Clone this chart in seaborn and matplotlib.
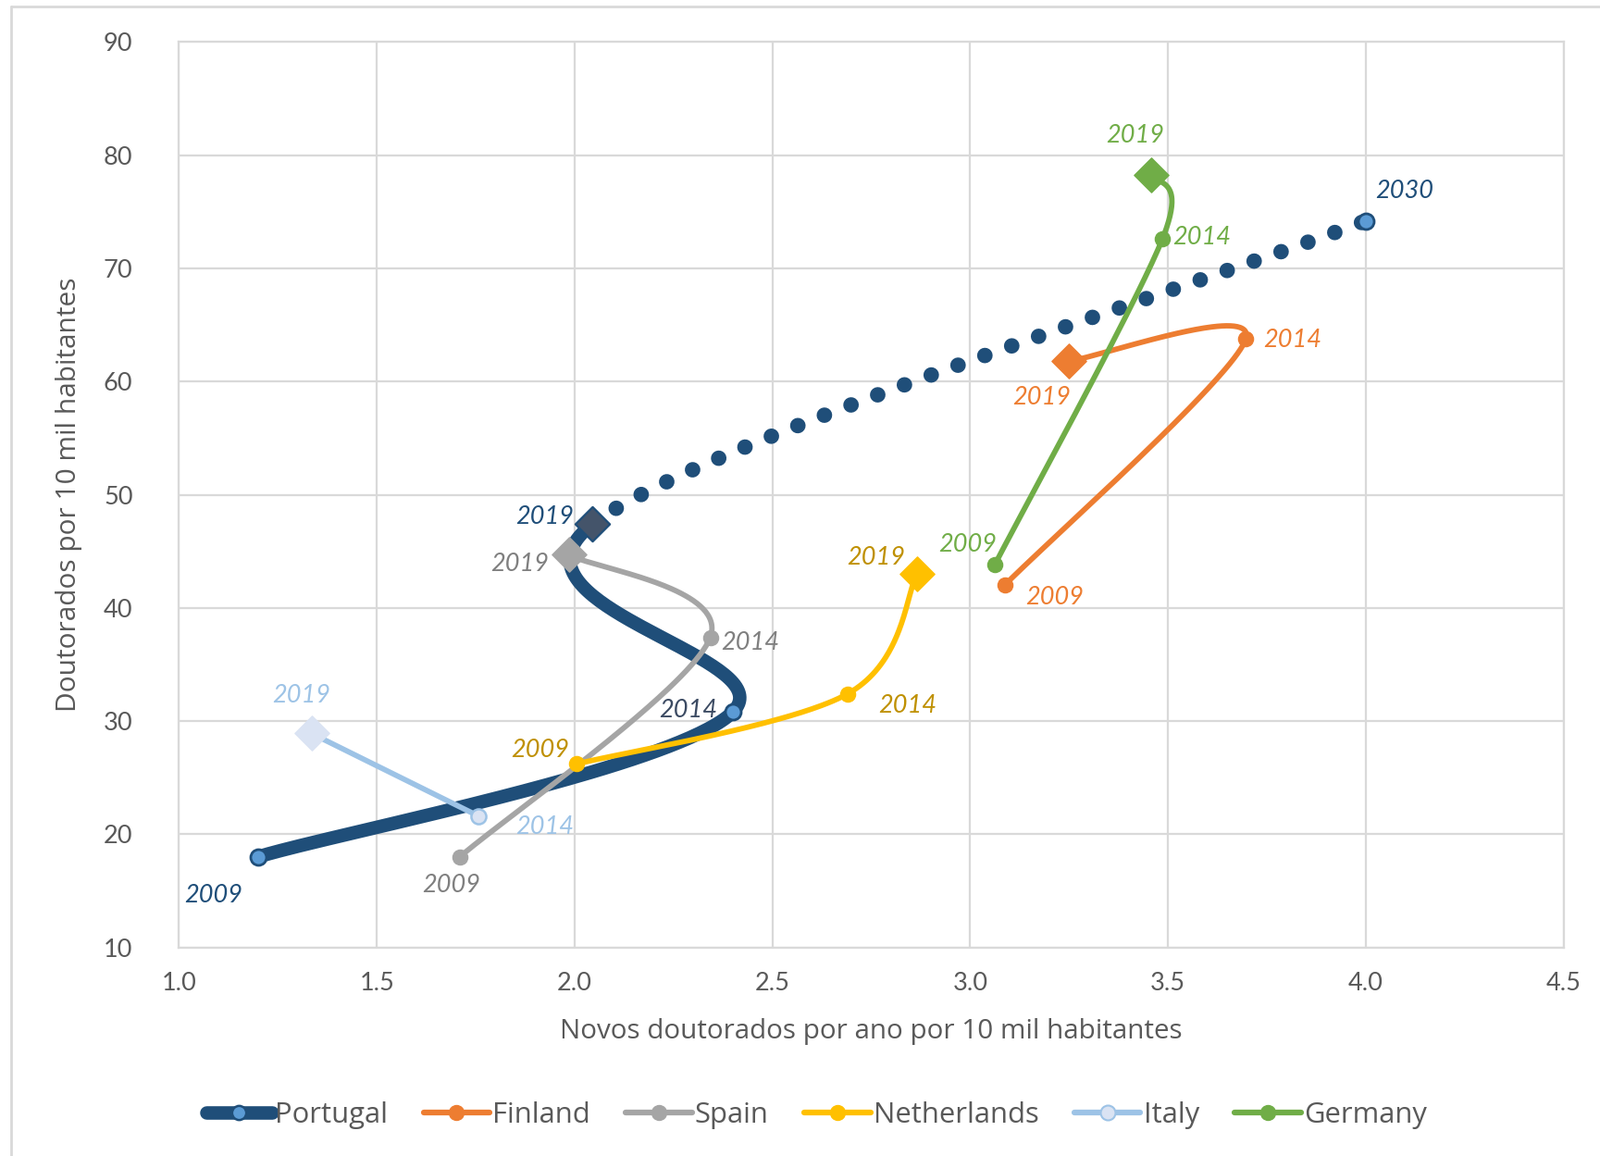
import numpy as np
import pandas as pd
import matplotlib
matplotlib.use("Agg")
import matplotlib.pyplot as plt
import seaborn as sns
from matplotlib.lines import Line2D

# ---------------- data ----------------
pt_years = ["2009", "2014", "2019", "2030"]
pt_x = [1.20, 2.40, 2.045, 4.00]
pt_y = [18.0, 30.8, 47.4, 74.2]

years = ["2009", "2014", "2019"]
fi_x = [3.087, 3.697, 3.249]
fi_y = [42.0, 63.8, 61.8]
es_x = [1.71, 2.343, 1.985]
es_y = [18.0, 37.4, 44.7]
nl_x = [2.005, 2.69, 2.866]
nl_y = [26.2, 32.4, 43.0]
it_years = ["2014", "2019"]
it_x = [1.757, 1.335]
it_y = [21.6, 28.9]
de_x = [3.062, 3.486, 3.457]
de_y = [43.8, 72.6, 78.3]

x_ticks = [1.0, 1.5, 2.0, 2.5, 3.0, 3.5, 4.0, 4.5]
y_ticks = [10, 20, 30, 40, 50, 60, 70, 80, 90]
series_names = ["Portugal", "Finland", "Spain", "Netherlands", "Italy", "Germany"]
x_title = "Novos doutorados por ano por 10 mil habitantes"
y_title = "Doutorados por 10 mil habitantes"

# ---------------- styles ----------------
C_PT, C_PT_FILL, C_PT_DIAM = "#1F4E79", "#5B9BD5", "#44546A"
C_FI, C_ES, C_NL, C_IT, C_IT_FILL, C_DE = "#ED7D31", "#A5A5A5", "#FFC000", "#9DC3E6", "#DAE3F3", "#70AD47"
GRID = "#D9D9D9"
TXT = "#595959"
TITLE_FONT = ["Open Sans", "Lato", "DejaVu Sans"]


def smooth_segments(xs, ys, n=80):
    """Catmull-Rom (Excel-like) smoothing; returns one array per segment."""
    P = np.column_stack([xs, ys]).astype(float)
    ext = np.vstack([P[0], P, P[-1]])
    t = np.linspace(0, 1, n)[:, None]
    h00 = 2 * t**3 - 3 * t**2 + 1
    h10 = t**3 - 2 * t**2 + t
    h01 = -2 * t**3 + 3 * t**2
    h11 = t**3 - t**2
    segs = []
    for i in range(len(P) - 1):
        p0, p1, p2, p3 = ext[i], ext[i + 1], ext[i + 2], ext[i + 3]
        m1 = (p2 - p0) / 2
        m2 = (p3 - p1) / 2
        segs.append(h00 * p1 + h10 * m1 + h01 * p2 + h11 * m2)
    return segs


sns.set_theme(style="white")
plt.rcParams["font.family"] = ["Lato", "DejaVu Sans"]

fig = plt.figure(figsize=(17.29, 12.49), dpi=100)
ax = fig.add_axes([0.1119, 0.1805, 0.9772 - 0.1119, 0.9636 - 0.1805])


def draw_curve(segs, color, lw, z, ls="-"):
    arr = np.vstack([s if k == 0 else s[1:] for k, s in enumerate(segs)])
    df = pd.DataFrame({"x": arr[:, 0], "y": arr[:, 1]})
    kw = dict(solid_capstyle="round")
    if ls != "-":
        kw = dict(linestyle=ls, dash_capstyle="round")
    sns.lineplot(data=df, x="x", y="y", sort=False, estimator=None, color=color,
                 lw=lw, ax=ax, zorder=z, **kw)


# Portugal (solid 2009-2019, dotted projection 2019-2030)
pt_segs = smooth_segments(pt_x, pt_y)
draw_curve(pt_segs[:2], C_PT, 10.5, 2)
draw_curve(pt_segs[2:], C_PT, 12, 2, ls=(0, (0.01, 1.84)))

draw_curve(smooth_segments(fi_x, fi_y), C_FI, 4.2, 3)
draw_curve(smooth_segments(es_x, es_y), C_ES, 4.2, 3)
draw_curve(smooth_segments(nl_x, nl_y), C_NL, 4.2, 3)
draw_curve(smooth_segments(it_x, it_y), C_IT, 4.2, 3)
draw_curve(smooth_segments(de_x, de_y), C_DE, 4.2, 3)


def markers(xs, ys, marker, s, fc, ec, lw, z):
    sns.scatterplot(x=xs, y=ys, marker=marker, s=s, color=fc, edgecolor=ec,
                    linewidth=lw, ax=ax, zorder=z, legend=False)


circ_s, diam_s = 135, 360
markers([pt_x[0], pt_x[1], pt_x[3]], [pt_y[0], pt_y[1], pt_y[3]], "o", 150, C_PT_FILL, C_PT, 2.0, 6)
markers([pt_x[2]], [pt_y[2]], "D", diam_s, C_PT_DIAM, C_PT, 1.6, 7)
for xs, ys, c in [(fi_x, fi_y, C_FI), (es_x, es_y, C_ES), (nl_x, nl_y, C_NL), (de_x, de_y, C_DE)]:
    markers(xs[:2], ys[:2], "o", circ_s, c, c, 1.0, 5)
    markers(xs[2:], ys[2:], "D", diam_s, c, c, 1.0, 5)
markers(it_x[:1], it_y[:1], "o", circ_s, C_IT_FILL, C_IT, 1.8, 5)
markers(it_x[1:], it_y[1:], "D", diam_s, C_IT_FILL, C_IT_FILL, 1.0, 5)

# year labels (offsets in points)
label_specs = [
    (pt_x, pt_y, pt_years, [C_PT, "#3B4A62", C_PT, C_PT], [(-35, -30), (-35, 1.5), (-37, 5.5), (30, 23)]),
    (fi_x, fi_y, years, [C_FI] * 3, [(39, -9.5), (36, -1.5), (-21, -28.5)]),
    (es_x, es_y, years, ["#7F7F7F"] * 3, [(-7, -22), (31, -4.5), (-38, -7)]),
    (nl_x, nl_y, years, ["#BF9000"] * 3, [(-28, 11), (47, -9.5), (-32, 12.5)]),
    (it_x, it_y, it_years, [C_IT] * 2, [(51.5, -8.5), (-8, 29.5)]),
    (de_x, de_y, years, [C_DE] * 3, [(-21, 16), (31, 1.5), (-12, 30)]),
]
for xs, ys, labs, cols, offs in label_specs:
    for x, y, lab, c, off in zip(xs, ys, labs, cols, offs):
        ax.annotate(lab, (x, y), xytext=off, textcoords="offset points", ha="center",
                    va="center", fontsize=19.5, style="italic", color=c, zorder=8)

# axes styling
ax.set_xlim(1.0, 4.5)
ax.set_ylim(10, 90)
ax.set_xticks(x_ticks)
ax.set_xticklabels([f"{v:.1f}" for v in x_ticks])
ax.set_yticks(y_ticks)
ax.set_yticklabels([str(v) for v in y_ticks])
ax.grid(True, color=GRID, lw=1.6)
ax.set_axisbelow(True)
for sp in ax.spines.values():
    sp.set_color(GRID)
    sp.set_linewidth(1.6)
ax.tick_params(axis="both", length=0, labelsize=19.5, colors=TXT)
ax.tick_params(axis="y", pad=36)
ax.tick_params(axis="x", pad=19)
ax.set_xlabel(x_title, fontsize=21.3, color=TXT, va="center", family=TITLE_FONT)
ax.set_ylabel(y_title, fontsize=21.5, color=TXT, va="center", family=TITLE_FONT)
ax.xaxis.set_label_coords(0.5, -0.0926)
ax.yaxis.set_label_coords(-0.0792, 0.5)

# legend
handles = [
    Line2D([0], [0], color=C_PT, lw=10.5, solid_capstyle="round", marker="o", markersize=11,
           markerfacecolor=C_PT_FILL, markeredgecolor=C_PT, markeredgewidth=1.8),
    Line2D([0], [0], color=C_FI, lw=4.5, solid_capstyle="round", marker="o", markersize=11.5,
           markerfacecolor=C_FI, markeredgecolor=C_FI),
    Line2D([0], [0], color=C_ES, lw=4.5, solid_capstyle="round", marker="o", markersize=11.5,
           markerfacecolor=C_ES, markeredgecolor=C_ES),
    Line2D([0], [0], color=C_NL, lw=4.5, solid_capstyle="round", marker="o", markersize=11.5,
           markerfacecolor=C_NL, markeredgecolor=C_NL),
    Line2D([0], [0], color=C_IT, lw=4.5, solid_capstyle="round", marker="o", markersize=11.5,
           markerfacecolor=C_IT_FILL, markeredgecolor=C_IT, markeredgewidth=1.5),
    Line2D([0], [0], color=C_DE, lw=4.5, solid_capstyle="round", marker="o", markersize=11.5,
           markerfacecolor=C_DE, markeredgecolor=C_DE),
]
leg = fig.legend(handles, series_names, loc="center", bbox_to_anchor=(0.5102, 0.0352), ncol=6,
                 frameon=False, prop={"family": TITLE_FONT, "size": 22.3}, handlelength=2.3,
                 handletextpad=0.1, columnspacing=1.25, labelcolor=TXT)

# outer chart border (top and left visible)
fig.add_artist(Line2D([0.0069, 0.0069], [0.0, 0.9944], transform=fig.transFigure, color=GRID, lw=2))
fig.add_artist(Line2D([0.0069, 1.0], [0.9944, 0.9944], transform=fig.transFigure, color=GRID, lw=2))

fig.savefig("out.png", dpi=100, facecolor="white")
